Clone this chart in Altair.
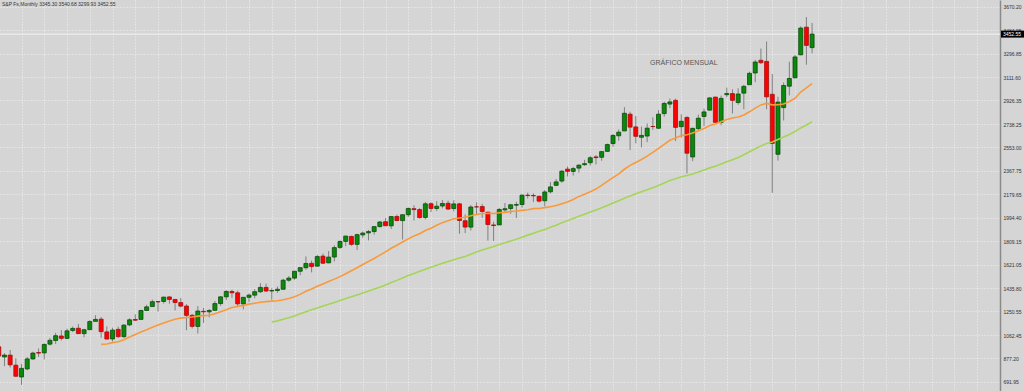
import altair as alt
import pandas as pd

# Monthly OHLC, Oct 2008 .. Oct 2020 (first months only feed the moving averages)
opens = [
    1164.17, 968.67, 888.61,
    902.99, 823.09, 729.57, 793.59, 872.74, 923.26, 920.82, 990.22, 1019.52, 1054.91, 1036.18, 1098.89,
    1116.56, 1073.89, 1105.36, 1171.23, 1188.58, 1087.30, 1031.10, 1107.53, 1049.72, 1143.49, 1185.71, 1186.60,
    1257.62, 1289.14, 1328.64, 1329.48, 1365.21, 1345.20, 1320.64, 1292.59, 1219.12, 1131.21, 1251.00, 1246.91,
    1258.86, 1312.45, 1365.90, 1408.47, 1397.86, 1309.87, 1362.33, 1379.32, 1406.54, 1440.90, 1412.20, 1416.18,
    1426.19, 1498.11, 1514.68, 1569.18, 1597.55, 1631.71, 1609.78, 1689.42, 1635.95, 1682.41, 1758.70, 1806.55,
    1845.86, 1782.68, 1857.68, 1873.96, 1884.39, 1923.87, 1962.29, 1929.80, 2004.07, 1971.44, 2018.21, 2065.78,
    2058.90, 1996.67, 2105.23, 2067.63, 2087.38, 2108.64, 2067.00, 2104.49, 1970.09, 1919.65, 2080.76, 2082.93,
    2038.20, 1936.94, 1937.09, 2056.62, 2067.17, 2093.94, 2099.34, 2173.15, 2171.33, 2164.33, 2128.68, 2200.17,
    2251.57, 2285.59, 2380.13, 2362.34, 2388.50, 2415.65, 2431.39, 2477.10, 2474.42, 2521.20, 2583.21, 2645.10,
    2683.73, 2816.45, 2715.22, 2633.45, 2642.96, 2718.70, 2704.95, 2821.17, 2896.96, 2926.29, 2717.58, 2790.50,
    2476.96, 2702.32, 2798.22, 2848.63, 2952.33, 2751.53, 2971.41, 2980.32, 2909.01, 2983.69, 3050.72, 3143.85,
    3244.67, 3235.66, 2974.28, 2498.08, 2869.09, 3038.78, 3105.92, 3288.26, 3507.44, 3345.30,
]
highs = [
    1264.28, 1007.51, 918.85,
    943.85, 877.86, 832.98, 888.70, 930.17, 956.23, 996.68, 1039.47, 1080.15, 1101.36, 1113.69, 1130.38,
    1150.45, 1112.42, 1180.69, 1219.80, 1205.13, 1131.23, 1120.95, 1129.24, 1148.90, 1196.14, 1227.08, 1262.60,
    1302.67, 1344.07, 1332.28, 1366.16, 1370.58, 1345.20, 1356.48, 1307.38, 1229.29, 1292.66, 1277.55, 1269.37,
    1333.47, 1371.94, 1419.15, 1422.38, 1415.32, 1363.46, 1391.74, 1426.68, 1474.51, 1470.96, 1434.27, 1448.00,
    1509.94, 1530.94, 1570.28, 1597.57, 1687.18, 1654.19, 1698.78, 1709.67, 1729.86, 1775.22, 1813.55, 1849.44,
    1850.84, 1867.92, 1883.97, 1897.28, 1924.03, 1968.17, 1991.39, 2005.04, 2019.26, 2018.19, 2075.76, 2093.55,
    2072.36, 2119.59, 2117.52, 2125.92, 2134.72, 2129.87, 2132.82, 2112.66, 2020.86, 2094.32, 2116.48, 2104.27,
    2038.20, 1962.96, 2072.21, 2111.05, 2103.48, 2120.55, 2177.09, 2193.81, 2187.87, 2169.60, 2214.10, 2277.53,
    2300.99, 2371.54, 2400.98, 2398.16, 2418.71, 2453.82, 2484.04, 2490.87, 2519.44, 2582.98, 2657.74, 2694.97,
    2872.87, 2835.96, 2801.90, 2717.49, 2742.24, 2791.47, 2848.03, 2916.50, 2940.91, 2939.86, 2815.15, 2800.18,
    2708.95, 2813.49, 2860.31, 2949.52, 2954.13, 2964.15, 3027.98, 3013.59, 3021.99, 3050.10, 3154.26, 3247.93,
    3337.77, 3393.52, 3136.72, 2954.86, 3068.67, 3233.13, 3287.38, 3514.77, 3588.11, 3540.68,
]
lows = [
    839.80, 741.02, 815.69,
    804.30, 734.52, 666.79, 783.32, 866.10, 888.86, 869.32, 978.51, 991.97, 1019.95, 1029.38, 1085.89,
    1071.59, 1044.50, 1105.36, 1170.69, 1040.78, 1028.33, 1010.91, 1039.70, 1039.70, 1131.87, 1173.00, 1186.60,
    1257.62, 1289.14, 1249.05, 1312.59, 1311.80, 1258.07, 1282.86, 1101.54, 1114.22, 1074.77, 1158.66, 1202.37,
    1258.86, 1294.62, 1340.03, 1357.38, 1291.98, 1266.74, 1325.41, 1354.65, 1396.56, 1403.28, 1343.35, 1398.11,
    1426.19, 1485.01, 1501.48, 1536.03, 1581.28, 1560.33, 1604.57, 1627.47, 1633.41, 1646.47, 1746.20, 1767.99,
    1770.45, 1737.92, 1834.44, 1814.36, 1859.79, 1915.98, 1930.67, 1904.78, 1964.04, 1820.66, 2001.01, 1972.56,
    1988.12, 1980.90, 2039.69, 2048.38, 2067.93, 2056.32, 2044.02, 1867.01, 1871.91, 1893.70, 2019.39, 1993.26,
    1812.29, 1810.10, 1937.09, 2033.80, 2025.91, 1991.68, 2074.02, 2147.58, 2119.12, 2114.72, 2083.79, 2187.44,
    2245.13, 2271.65, 2322.25, 2328.95, 2352.72, 2405.70, 2407.70, 2417.35, 2446.55, 2520.40, 2557.45, 2605.52,
    2682.36, 2532.69, 2585.89, 2553.80, 2594.62, 2691.99, 2698.95, 2796.34, 2864.12, 2603.54, 2631.09, 2346.58,
    2443.96, 2681.83, 2722.27, 2848.63, 2750.52, 2728.81, 2952.22, 2822.12, 2891.85, 2855.94, 3050.72, 3070.33,
    3214.64, 2855.84, 2191.86, 2447.49, 2766.64, 2965.66, 3101.17, 3284.53, 3209.45, 3299.93,
]
closes = [
    968.75, 896.24, 903.25,
    825.88, 735.09, 797.87, 872.81, 919.14, 919.32, 987.48, 1020.62, 1057.08, 1036.19, 1095.63, 1115.10,
    1073.87, 1104.49, 1169.43, 1186.69, 1089.41, 1030.71, 1101.60, 1049.33, 1141.20, 1183.26, 1180.55, 1257.64,
    1286.12, 1327.22, 1325.83, 1363.61, 1345.20, 1320.64, 1292.28, 1218.89, 1131.42, 1253.30, 1246.96, 1257.60,
    1312.41, 1365.68, 1408.47, 1397.91, 1310.33, 1362.16, 1379.32, 1406.58, 1440.67, 1412.16, 1416.18, 1426.19,
    1498.11, 1514.68, 1569.19, 1597.57, 1630.74, 1606.28, 1685.73, 1632.97, 1681.55, 1756.54, 1805.81, 1848.36,
    1782.59, 1859.45, 1872.34, 1883.95, 1923.57, 1960.23, 1930.67, 2003.37, 1972.29, 2018.05, 2067.56, 2058.90,
    1994.99, 2104.50, 2067.89, 2085.51, 2107.39, 2063.11, 2103.84, 1972.18, 1920.03, 2079.36, 2080.41, 2043.94,
    1940.24, 1932.23, 2059.74, 2065.30, 2096.95, 2098.86, 2173.60, 2170.95, 2168.27, 2126.15, 2198.81, 2238.83,
    2278.87, 2363.64, 2362.72, 2384.20, 2411.80, 2423.41, 2470.30, 2471.65, 2519.36, 2575.26, 2647.58, 2673.61,
    2823.81, 2713.83, 2640.87, 2648.05, 2705.27, 2718.37, 2816.29, 2901.52, 2913.98, 2711.74, 2760.17, 2506.85,
    2704.10, 2784.49, 2834.40, 2945.83, 2752.06, 2941.76, 2980.38, 2926.46, 2976.74, 3037.56, 3140.98, 3230.78,
    3225.52, 2954.22, 2584.59, 2912.43, 3044.31, 3100.29, 3271.12, 3500.31, 3363.00, 3452.55,
]
months = [str(p) for p in pd.period_range("2008-10", periods=len(closes), freq="M")]

y_ticks = [691.95, 877.20, 1062.45, 1250.55, 1435.80, 1621.05, 1809.15, 1994.40, 2179.65,
           2367.75, 2553.00, 2738.25, 2926.35, 3111.60, 3296.85, 3484.95, 3670.20]
last_price = 3452.55
header = "S&P Fs,Monthly  3345.30 3540.68 3299.93 3452.55"
note = "GRÁFICO MENSUAL"

df = pd.DataFrame({"idx": list(range(len(closes))), "month": months,
                   "open": opens, "high": highs, "low": lows, "close": closes})
df["up"] = df["close"] >= df["open"]

xs = alt.Scale(domain=[2.095, 176.16], nice=False, zero=False)
ys = alt.Scale(domain=[618.1, 3723.4], nice=False, zero=False)

x_axis = alt.Axis(values=list(range(5, 177, 4)), labels=False, ticks=False, domain=False,
                  title=None, grid=True, gridColor="#f4f4f4", gridDash=[1, 2], gridOpacity=0.9)
y_axis = alt.Axis(orient="right", values=y_ticks, format=".2f", title=None, ticks=False,
                  labelFontSize=5, labelColor="#333333", labelFont="Liberation Sans",
                  labelPadding=3, labelOverlap=False, labelBound=False, labelFlush=False,
                  domain=True, domainColor="#8a8a8a", domainWidth=1.5,
                  grid=True, gridColor="#f4f4f4", gridDash=[1, 2], gridOpacity=0.9)

base = alt.Chart(df)

wicks = base.mark_rule(color="#808080", strokeWidth=1, clip=True).encode(
    x=alt.X("idx:Q", scale=xs, axis=x_axis),
    y=alt.Y("low:Q", scale=ys, axis=y_axis),
    y2="high:Q",
)

bodies = base.mark_bar(width=4, strokeWidth=0.8, clip=True).encode(
    x=alt.X("idx:Q", scale=xs, axis=x_axis),
    y=alt.Y("open:Q", scale=ys, axis=y_axis),
    y2="close:Q",
    color=alt.condition("datum.up", alt.value("#0a8a0a"), alt.value("#ff0000"), legend=None),
    stroke=alt.condition("datum.up", alt.value("#0b4a0b"), alt.value("#a01010")),
)

ma20 = base.transform_window(
    ma="mean(close)", n="count()", frame=[-19, 0], sort=[alt.SortField("idx")]
).transform_filter("datum.n >= 20").mark_line(color="#f89a3c", strokeWidth=1.6, clip=True).encode(
    x=alt.X("idx:Q", scale=xs, axis=x_axis), y=alt.Y("ma:Q", scale=ys, axis=y_axis))

ma50 = base.transform_window(
    ma="mean(close)", n="count()", frame=[-49, 0], sort=[alt.SortField("idx")]
).transform_filter("datum.n >= 50").mark_line(color="#a5d556", strokeWidth=1.6, clip=True).encode(
    x=alt.X("idx:Q", scale=xs, axis=x_axis), y=alt.Y("ma:Q", scale=ys, axis=y_axis))

price_line = alt.Chart(pd.DataFrame({"p": [last_price]})).mark_rule(
    color="#eeeeee", strokeWidth=1.2).encode(y=alt.Y("p:Q", scale=ys, axis=y_axis))

price_box = alt.Chart(pd.DataFrame({"p": [last_price]})).mark_rule(
    color="#000000", strokeWidth=7, clip=False).encode(
    x=alt.value(1001), x2=alt.value(1024), y=alt.Y("p:Q", scale=ys, axis=y_axis))

price_txt = alt.Chart(pd.DataFrame({"p": [last_price], "t": ["3452.55"]})).mark_text(
    align="left", baseline="middle", fontSize=5, color="#ffffff", font="Liberation Sans", clip=False
).encode(x=alt.value(1003), y=alt.Y("p:Q", scale=ys, axis=y_axis), text="t:N")

header_txt = alt.Chart(pd.DataFrame({"t": [header]})).mark_text(
    align="left", baseline="middle", fontSize=5, color="#333333", font="Liberation Sans"
).encode(x=alt.value(2), y=alt.value(3.5), text="t:N")

note_txt = alt.Chart(pd.DataFrame({"t": [note]})).mark_text(
    align="left", baseline="middle", fontSize=7, color="#555555", font="Liberation Sans"
).encode(x=alt.value(650), y=alt.value(62.5), text="t:N")

chart = alt.layer(
    price_line, wicks, bodies, ma20, ma50, price_box, price_txt, header_txt, note_txt
).properties(
    width=1000, height=391,
    autosize=alt.AutoSizeParams(type="none"),
    padding={"left": 0, "top": 0, "right": 24, "bottom": 0},
    background="#d5d5d5",
).configure_view(fill="#d5d5d5", stroke=None).configure_axis(
    labelOverlap=False, labelBound=False
)

chart.save("out.html", embed_options={"renderer": "svg", "actions": False})
